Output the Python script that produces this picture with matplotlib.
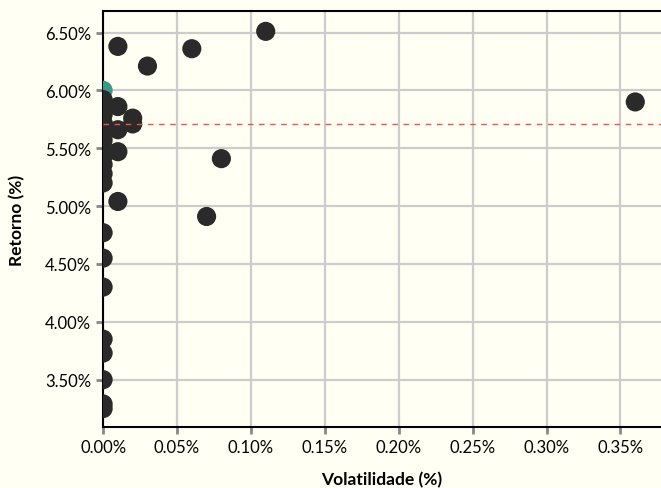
import matplotlib.pyplot as plt
from matplotlib.ticker import FuncFormatter, MultipleLocator

# volatilidade (%) e retorno (%) das carteiras
volatilidade = [0.00, 0.00, 0.00, 0.00, 0.00, 0.00, 0.00, 0.00, 0.00, 0.00, 0.00,
                0.00, 0.00, 0.00, 0.00, 0.00, 0.00, 0.00, 0.00,
                0.01, 0.01, 0.01, 0.01, 0.01, 0.02, 0.02, 0.03, 0.06, 0.07,
                0.08, 0.11, 0.36]
retorno = [5.92, 5.86, 5.79, 5.72, 5.64, 5.57, 5.50, 5.43, 5.36, 5.28, 5.20,
           4.77, 4.55, 4.30, 3.85, 3.73, 3.50, 3.29, 3.25,
           6.38, 5.86, 5.66, 5.47, 5.04, 5.76, 5.71, 6.21, 6.36, 4.91,
           5.41, 6.51, 5.90]

# carteira de destaque
vol_destaque = [0.00]
ret_destaque = [6.00]

retorno_medio = 5.71

fundo = "#fffff3"
plt.rcParams["font.family"] = ["Lato", "DejaVu Sans"]

fig = plt.figure(figsize=(6.61, 4.89), dpi=100, facecolor=fundo)
ax = fig.add_axes([0.156, 0.125, 0.844, 0.85])
ax.set_facecolor(fundo)

ax.scatter(vol_destaque, ret_destaque, s=190, color="#3a9a88", zorder=3,
           edgecolors="none")
ax.scatter(volatilidade, retorno, s=190, color="#2a2a2a", zorder=3,
           edgecolors="none")
ax.axhline(retorno_medio, color="#e8574a", linestyle=(0, (4, 4)), linewidth=1,
           zorder=4)

ax.set_xlim(0, 0.3774)
ax.set_ylim(3.092, 6.684)
ax.xaxis.set_major_locator(MultipleLocator(0.05))
ax.yaxis.set_major_locator(MultipleLocator(0.5))
ax.xaxis.set_major_formatter(FuncFormatter(lambda v, p: f"{v:.2f}%"))
ax.yaxis.set_major_formatter(FuncFormatter(lambda v, p: f"{v:.2f}%"))

ax.grid(True, color="#cccccc", linewidth=1.6, zorder=0)
ax.set_axisbelow(True)
for lado in ["left", "bottom", "top"]:
    ax.spines[lado].set_color("black")
    ax.spines[lado].set_linewidth(1.5)
ax.spines["right"].set_visible(False)
ax.tick_params(axis="both", colors="#888888", length=5, width=2,
               labelcolor="black", labelsize=12)

ax.set_xlabel("Volatilidade (%)", fontsize=12.5, fontweight="bold", labelpad=12)
ax.set_ylabel("Retorno (%)", fontsize=12.5, fontweight="bold", labelpad=14)

fig.savefig("out.png", dpi=100, facecolor=fundo)
